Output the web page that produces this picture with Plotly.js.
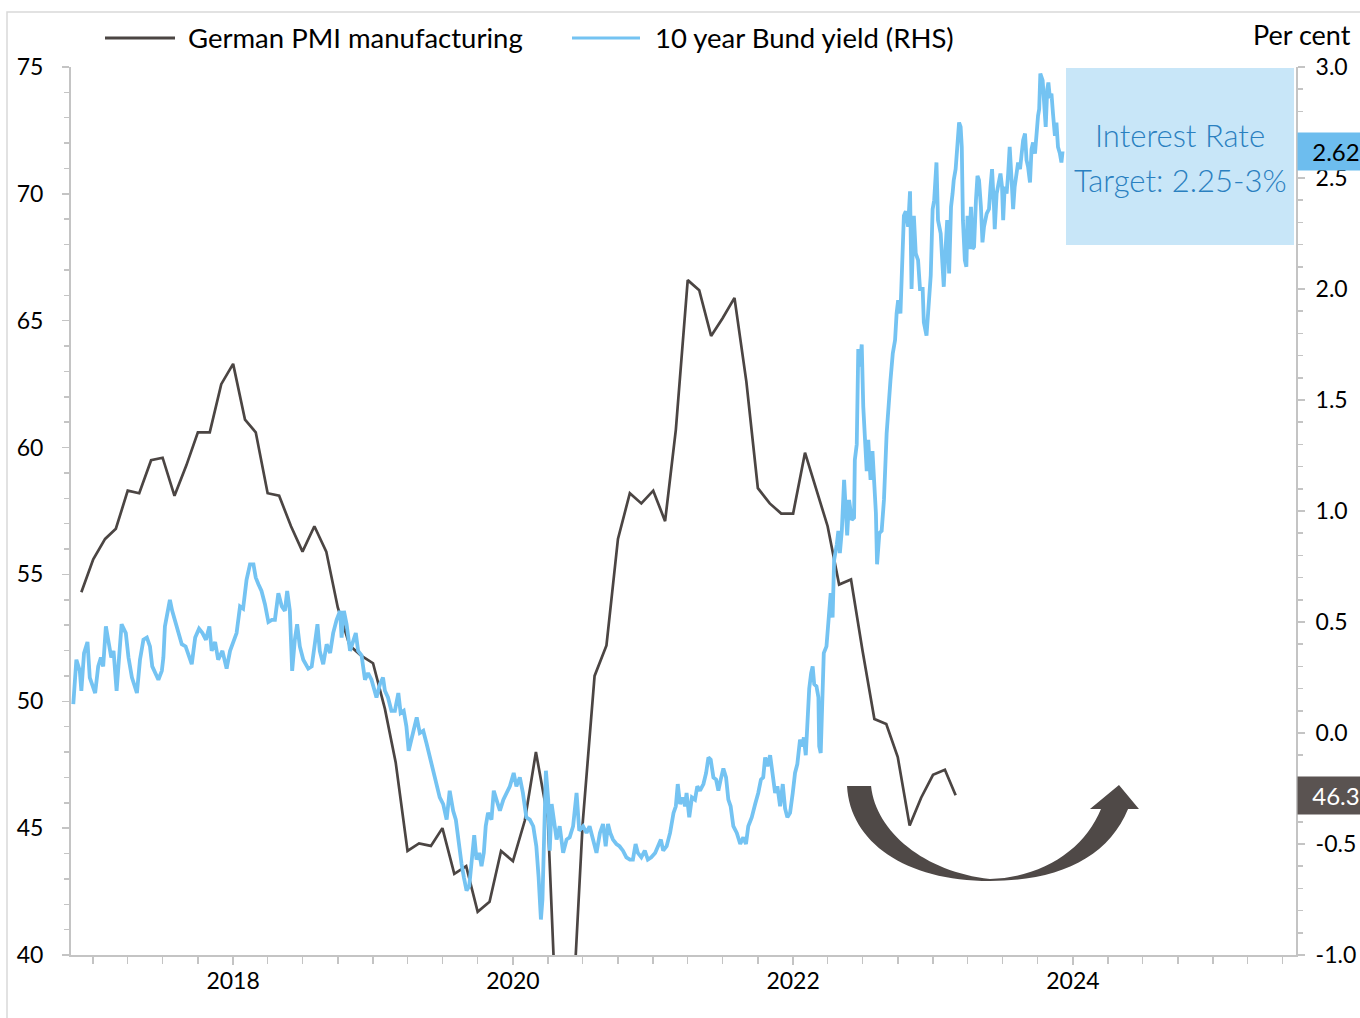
<!DOCTYPE html>
<html>
<head>
<meta charset="utf-8">
<script src="https://cdn.plot.ly/plotly-3.0.1.min.js"></script>
<style>
  html, body { margin: 0; padding: 0; background: #ffffff; }
  #chart { width: 1360px; height: 1018px; }
</style>
</head>
<body>
<div id="chart"></div>
<script>
/* German PMI manufacturing (monthly, data month) */
var pmiMonths = [
    '2016-11', '2016-12',
    '2017-01', '2017-02', '2017-03', '2017-04', '2017-05', '2017-06', '2017-07', '2017-08', '2017-09', '2017-10', '2017-11', '2017-12',
    '2018-01', '2018-02', '2018-03', '2018-04', '2018-05', '2018-06', '2018-07', '2018-08', '2018-09', '2018-10', '2018-11', '2018-12',
    '2019-01', '2019-02', '2019-03', '2019-04', '2019-05', '2019-06', '2019-07', '2019-08', '2019-09', '2019-10', '2019-11', '2019-12',
    '2020-01', '2020-02', '2020-03', '2020-04', '2020-05', '2020-06', '2020-07', '2020-08', '2020-09', '2020-10', '2020-11', '2020-12',
    '2021-01', '2021-02', '2021-03', '2021-04', '2021-05', '2021-06', '2021-07', '2021-08', '2021-09', '2021-10', '2021-11', '2021-12',
    '2022-01', '2022-02', '2022-03', '2022-04', '2022-05', '2022-06', '2022-07', '2022-08', '2022-09', '2022-10', '2022-11', '2022-12',
    '2023-01', '2023-02'
];
var pmiValues = [
    54.3, 55.6,
    56.4, 56.8, 58.3, 58.2, 59.5, 59.6, 58.1, 59.3, 60.6, 60.6, 62.5, 63.3,
    61.1, 60.6, 58.2, 58.1, 56.9, 55.9, 56.9, 55.9, 53.7, 52.2, 51.8, 51.5,
    49.7, 47.6, 44.1, 44.4, 44.3, 45.0, 43.2, 43.5, 41.7, 42.1, 44.1, 43.7,
    45.3, 48.0, 45.4, 34.5, 36.6, 45.2, 51.0, 52.2, 56.4, 58.2, 57.8, 58.3,
    57.1, 60.7, 66.6, 66.2, 64.4, 65.1, 65.9, 62.6, 58.4, 57.8, 57.4, 57.4,
    59.8, 58.4, 56.9, 54.6, 54.8, 52.0, 49.3, 49.1, 47.8, 45.1, 46.2, 47.1,
    47.3, 46.3
];

/* 10 year Bund yield, per cent */
var bundDates = [
    '2016-11-10', '2016-11-18', '2016-11-27', '2016-12-01', '2016-12-08', '2016-12-17', '2016-12-23',
    '2017-01-06', '2017-01-14', '2017-01-21', '2017-01-27', '2017-02-03', '2017-02-09', '2017-02-17', '2017-02-23',
    '2017-03-03', '2017-03-09', '2017-03-16', '2017-03-27', '2017-04-03', '2017-04-12', '2017-04-25', '2017-05-03',
    '2017-05-12', '2017-05-21', '2017-05-29', '2017-06-04', '2017-06-11', '2017-06-20', '2017-06-29', '2017-07-03',
    '2017-07-07', '2017-07-16', '2017-07-20', '2017-07-26', '2017-08-02', '2017-08-11', '2017-08-20', '2017-08-30',
    '2017-09-08', '2017-09-15', '2017-09-24', '2017-10-04', '2017-10-13', '2017-10-22', '2017-10-31', '2017-11-06',
    '2017-11-15', '2017-11-23', '2017-12-04', '2017-12-15', '2017-12-24',
    '2018-01-02', '2018-01-10', '2018-01-19', '2018-01-27', '2018-02-05', '2018-02-14', '2018-02-23', '2018-03-01',
    '2018-03-08', '2018-03-16', '2018-03-25', '2018-04-03', '2018-04-12', '2018-04-20', '2018-04-29', '2018-05-08',
    '2018-05-16', '2018-05-22', '2018-05-29', '2018-06-04', '2018-06-11', '2018-06-17', '2018-06-24', '2018-07-03',
    '2018-07-16', '2018-07-25', '2018-08-02', '2018-08-09', '2018-08-15', '2018-08-24', '2018-09-02', '2018-09-11',
    '2018-09-19', '2018-09-28', '2018-10-07', '2018-10-11', '2018-10-17', '2018-10-24', '2018-11-02', '2018-11-10',
    '2018-11-17', '2018-11-23', '2018-12-02', '2018-12-11', '2018-12-19', '2018-12-28',
    '2019-01-10', '2019-01-19', '2019-01-27', '2019-02-01', '2019-02-09', '2019-02-18', '2019-02-27', '2019-03-08',
    '2019-03-14', '2019-03-22', '2019-03-29', '2019-04-04', '2019-04-12', '2019-04-20', '2019-04-25', '2019-05-03',
    '2019-05-12', '2019-05-21', '2019-05-29', '2019-06-07', '2019-06-16', '2019-06-24', '2019-07-03', '2019-07-12',
    '2019-07-20', '2019-07-29', '2019-08-05', '2019-08-11', '2019-08-20', '2019-08-26', '2019-09-02', '2019-09-09',
    '2019-09-15', '2019-09-22', '2019-09-28', '2019-10-05', '2019-10-11', '2019-10-17', '2019-10-22', '2019-10-28',
    '2019-11-06', '2019-11-12', '2019-11-19', '2019-11-28', '2019-12-07', '2019-12-15', '2019-12-24',
    '2020-01-03', '2020-01-10', '2020-01-19', '2020-01-27', '2020-02-05', '2020-02-14', '2020-02-23', '2020-03-02',
    '2020-03-08', '2020-03-14', '2020-03-18', '2020-03-22', '2020-03-27', '2020-04-02', '2020-04-06', '2020-04-11',
    '2020-04-17', '2020-04-24', '2020-05-02', '2020-05-11', '2020-05-20', '2020-05-28', '2020-06-06', '2020-06-15',
    '2020-06-22', '2020-07-02', '2020-07-11', '2020-07-19', '2020-07-28', '2020-08-06', '2020-08-15', '2020-08-23',
    '2020-08-30', '2020-09-05', '2020-09-11', '2020-09-18', '2020-09-27', '2020-10-05', '2020-10-14', '2020-10-23',
    '2020-11-01', '2020-11-09', '2020-11-16', '2020-11-22', '2020-12-01', '2020-12-10', '2020-12-18', '2020-12-27',
    '2021-01-06', '2021-01-14', '2021-01-21', '2021-01-27', '2021-02-05', '2021-02-14', '2021-02-23', '2021-03-01',
    '2021-03-06', '2021-03-12', '2021-03-19', '2021-03-25', '2021-03-29', '2021-04-05', '2021-04-12', '2021-04-20',
    '2021-04-26', '2021-05-03', '2021-05-12', '2021-05-19', '2021-05-25', '2021-05-31', '2021-06-07', '2021-06-14',
    '2021-06-20', '2021-06-26', '2021-07-03', '2021-07-10', '2021-07-16', '2021-07-22', '2021-07-29', '2021-08-07',
    '2021-08-16', '2021-08-24', '2021-08-31', '2021-09-06', '2021-09-15', '2021-09-24', '2021-10-02', '2021-10-09',
    '2021-10-15', '2021-10-20', '2021-10-26', '2021-11-02', '2021-11-09', '2021-11-15', '2021-11-21', '2021-11-28',
    '2021-12-05', '2021-12-11', '2021-12-17', '2021-12-24', '2021-12-31',
    '2022-01-06', '2022-01-12', '2022-01-19', '2022-01-25', '2022-01-29', '2022-02-03', '2022-02-07', '2022-02-12',
    '2022-02-17', '2022-02-21', '2022-02-25', '2022-03-03', '2022-03-08', '2022-03-10', '2022-03-14', '2022-03-18',
    '2022-03-22', '2022-03-29', '2022-04-03', '2022-04-09', '2022-04-14', '2022-04-18', '2022-04-25', '2022-04-29',
    '2022-05-03', '2022-05-08', '2022-05-14', '2022-05-19', '2022-05-22', '2022-05-27', '2022-06-03', '2022-06-09',
    '2022-06-11', '2022-06-16', '2022-06-20', '2022-06-24', '2022-06-29', '2022-07-03', '2022-07-07', '2022-07-12',
    '2022-07-16', '2022-07-22', '2022-07-27', '2022-08-01', '2022-08-05', '2022-08-08', '2022-08-14', '2022-08-20',
    '2022-08-26', '2022-09-02', '2022-09-08', '2022-09-12', '2022-09-18', '2022-09-24', '2022-09-28', '2022-10-02',
    '2022-10-08', '2022-10-14', '2022-10-17', '2022-10-22', '2022-10-28', '2022-11-02', '2022-11-06', '2022-11-12',
    '2022-11-17', '2022-11-23', '2022-11-28', '2022-12-05', '2022-12-08', '2022-12-15', '2022-12-19', '2022-12-26',
    '2022-12-31',
    '2023-01-04', '2023-01-10', '2023-01-14', '2023-01-21', '2023-01-26', '2023-01-29', '2023-02-03', '2023-02-07',
    '2023-02-12', '2023-02-17', '2023-02-21', '2023-02-24', '2023-03-01', '2023-03-06', '2023-03-10', '2023-03-14',
    '2023-03-17', '2023-03-20', '2023-03-25', '2023-03-29', '2023-04-01', '2023-04-05', '2023-04-10', '2023-04-14',
    '2023-04-18', '2023-04-23', '2023-04-27', '2023-05-01', '2023-05-06', '2023-05-10', '2023-05-14', '2023-05-21',
    '2023-05-27', '2023-05-31', '2023-06-04', '2023-06-09', '2023-06-11', '2023-06-16', '2023-06-22', '2023-06-26',
    '2023-06-30', '2023-07-03', '2023-07-07', '2023-07-12', '2023-07-16', '2023-07-20', '2023-07-25', '2023-07-29',
    '2023-08-02', '2023-08-07', '2023-08-11', '2023-08-16', '2023-08-20', '2023-08-24', '2023-08-29', '2023-09-02',
    '2023-09-06', '2023-09-11', '2023-09-15', '2023-09-19', '2023-09-24', '2023-09-28', '2023-10-02', '2023-10-05',
    '2023-10-08', '2023-10-14', '2023-10-17', '2023-10-20', '2023-10-22', '2023-10-26', '2023-10-29', '2023-11-02',
    '2023-11-06', '2023-11-10', '2023-11-15', '2023-11-19', '2023-11-23', '2023-11-28', '2023-12-02', '2023-12-05'
];
var bundYield = [
    0.13, 0.33, 0.28, 0.19, 0.36, 0.41, 0.25,
    0.18, 0.30, 0.34, 0.30, 0.48, 0.42, 0.34, 0.37,
    0.19, 0.33, 0.49, 0.45, 0.34, 0.25, 0.18, 0.33,
    0.42, 0.43, 0.39, 0.30, 0.27, 0.24, 0.28, 0.34,
    0.48, 0.57, 0.60, 0.55, 0.51, 0.46, 0.40, 0.39,
    0.34, 0.31, 0.43, 0.47, 0.45, 0.42, 0.48, 0.37,
    0.41, 0.33, 0.37, 0.29, 0.37,
    0.42, 0.45, 0.57, 0.56, 0.69, 0.76, 0.76, 0.70,
    0.67, 0.64, 0.58, 0.50, 0.51, 0.51, 0.63, 0.57,
    0.55, 0.64, 0.55, 0.28, 0.42, 0.49, 0.39, 0.33,
    0.29, 0.30, 0.40, 0.49, 0.37, 0.31, 0.40, 0.36,
    0.45, 0.51, 0.55, 0.43, 0.55, 0.49, 0.37, 0.42,
    0.45, 0.37, 0.35, 0.24, 0.27, 0.24,
    0.16, 0.22, 0.25, 0.19, 0.16, 0.10, 0.10, 0.18,
    0.09, 0.10, 0.03, -0.08, -0.02, 0.03, 0.07, 0.00,
    0.01, -0.05, -0.11, -0.17, -0.23, -0.29, -0.32, -0.39,
    -0.26, -0.35, -0.39, -0.48, -0.59, -0.65, -0.71, -0.69,
    -0.60, -0.46, -0.57, -0.54, -0.60, -0.54, -0.42, -0.36,
    -0.39, -0.26, -0.30, -0.35, -0.30, -0.27, -0.24,
    -0.18, -0.24, -0.20, -0.27, -0.38, -0.39, -0.42, -0.51,
    -0.65, -0.84, -0.75, -0.44, -0.17, -0.30, -0.53, -0.32,
    -0.39, -0.48, -0.42, -0.54, -0.48, -0.47, -0.42, -0.27,
    -0.44, -0.42, -0.45, -0.42, -0.48, -0.54, -0.45, -0.41,
    -0.51, -0.41, -0.45, -0.48, -0.50, -0.51, -0.53, -0.56,
    -0.57, -0.57, -0.50, -0.54, -0.56, -0.53, -0.57, -0.56,
    -0.54, -0.51, -0.48, -0.53, -0.51, -0.45, -0.36, -0.33,
    -0.23, -0.32, -0.29, -0.33, -0.27, -0.38, -0.29, -0.30,
    -0.24, -0.26, -0.23, -0.18, -0.11, -0.12, -0.20, -0.21,
    -0.26, -0.21, -0.16, -0.20, -0.30, -0.33, -0.42, -0.45,
    -0.50, -0.47, -0.50, -0.42, -0.38, -0.32, -0.27, -0.21,
    -0.20, -0.11, -0.15, -0.10, -0.18, -0.27, -0.24, -0.33,
    -0.23, -0.34, -0.38, -0.36, -0.27,
    -0.18, -0.14, -0.03, -0.06, -0.02, -0.10, 0.03, 0.20,
    0.27, 0.30, 0.22, 0.21, 0.16, -0.06, -0.09, 0.10,
    0.36, 0.39, 0.53, 0.63, 0.52, 0.78, 0.85, 0.91,
    0.81, 0.91, 1.14, 0.99, 0.89, 1.05, 0.96, 0.97,
    1.23, 1.30, 1.73, 1.65, 1.75, 1.47, 1.32, 1.18,
    1.32, 1.14, 1.27, 1.12, 0.99, 0.76, 0.90, 0.91,
    1.05, 1.35, 1.53, 1.59, 1.71, 1.77, 1.89, 1.95,
    1.89, 2.13, 2.33, 2.35, 2.28, 2.44, 2.00, 2.33,
    2.16, 2.13, 2.00, 2.00, 1.85, 1.79, 1.91, 2.06,
    2.36,
    2.40, 2.57, 2.31, 2.25, 2.13, 2.01, 2.19, 2.31,
    2.07, 2.37, 2.43, 2.49, 2.54, 2.64, 2.75, 2.73,
    2.64, 2.31, 2.13, 2.10, 2.33, 2.18, 2.37, 2.18,
    2.19, 2.40, 2.51, 2.49, 2.37, 2.21, 2.28, 2.34,
    2.36, 2.46, 2.54, 2.37, 2.27, 2.43, 2.49, 2.52,
    2.46, 2.31, 2.46, 2.43, 2.52, 2.64, 2.49, 2.36,
    2.46, 2.51, 2.57, 2.54, 2.63, 2.67, 2.70, 2.58,
    2.55, 2.48, 2.63, 2.66, 2.61, 2.73, 2.78, 2.81,
    2.97, 2.94, 2.84, 2.79, 2.73, 2.90, 2.93, 2.86,
    2.88, 2.79, 2.69, 2.75, 2.64, 2.61, 2.57, 2.62
];

/* right axis ticks (hyphen minus, as in the original) */
var rhsTicks = [-1, -0.5, 0, 0.5, 1, 1.5, 2, 2.5, 3];
var rhsLabels = rhsTicks.map(function (v) { return v.toFixed(1); });

var pmiLast = pmiValues[pmiValues.length - 1];
var bundLast = bundYield[bundYield.length - 1];

/* plot area in pixels, used for placing the decorations */
var plotL = 71, plotR = 1296, plotT = 67, plotB = 955;
function fx(px) { return (px - plotL) / (plotR - plotL); }
function fy(py) { return (plotB - py) / (plotB - plotT); }
function pt(p) { return fx(p[0]).toFixed(4) + ',' + fy(p[1]).toFixed(4); }

var font = 'Lato, "DejaVu Sans", sans-serif';
var pmiColor = '#4b4543';
var bundColor = '#74c3f2';
var axisGrey = '#c4c4c4';

/* curved arrow, pixel outline converted to paper coordinates */
var arrowPath =
    'M ' + pt([847, 786]) + ' L ' + pt([871, 786]) +
    ' C ' + pt([876, 832]) + ' ' + pt([925, 872]) + ' ' + pt([990, 879]) +
    ' C ' + pt([1045, 877]) + ' ' + pt([1085, 848]) + ' ' + pt([1101, 809]) +
    ' L ' + pt([1090, 809]) + ' L ' + pt([1119, 785]) + ' L ' + pt([1139, 809]) +
    ' L ' + pt([1128, 809]) +
    ' C ' + pt([1108, 858]) + ' ' + pt([1058, 881]) + ' ' + pt([990, 881]) +
    ' C ' + pt([905, 881]) + ' ' + pt([850, 842]) + ' ' + pt([847, 786]) + ' Z';

var data = [
    {
        type: 'scatter',
        mode: 'lines',
        name: 'German PMI manufacturing',
        x: pmiMonths,
        y: pmiValues,
        xperiod: 'M1',
        xperiodalignment: 'end',
        line: { color: pmiColor, width: 2.7 },
        yaxis: 'y'
    },
    {
        type: 'scatter',
        mode: 'lines',
        name: '10 year Bund yield (RHS)',
        x: bundDates,
        y: bundYield,
        line: { color: bundColor, width: 3.8 },
        yaxis: 'y2'
    }
];

var tickFont = { family: font, size: 23, color: '#000000' };

var layout =
{
    width: 1360,
    height: 1018,
    margin: { l: plotL, r: 1360 - plotR, t: plotT, b: 1018 - plotB, pad: 0 },
    paper_bgcolor: '#ffffff',
    plot_bgcolor: '#ffffff',
    showlegend: false,
    hovermode: false,
    font: { family: font, color: '#000000' },
    xaxis: {
        type: 'date',
        range: ['2016-11-04', '2025-08-05'],
        tickmode: 'linear',
        tick0: '2018-01-01',
        dtick: 'M24',
        tickformat: '%Y',
        ticks: 'outside',
        ticklen: 8,
        tickwidth: 1.5,
        tickcolor: axisGrey,
        ticklabelstandoff: -4,
        showline: true,
        linecolor: axisGrey,
        linewidth: 2,
        showgrid: false,
        zeroline: false,
        tickfont: tickFont,
        minor: { tick0: '2018-01-01', dtick: 'M3', ticks: 'outside', ticklen: 7, tickwidth: 1.5, tickcolor: axisGrey, showgrid: false }
    },
    yaxis: {
        range: [40, 75],
        tick0: 40,
        dtick: 5,
        ticks: 'outside',
        ticklen: 7,
        tickwidth: 1.5,
        tickcolor: axisGrey,
        ticklabelstandoff: 14,
        showline: true,
        linecolor: axisGrey,
        linewidth: 2,
        showgrid: false,
        zeroline: false,
        tickfont: tickFont,
        minor: { dtick: 1, ticks: 'outside', ticklen: 5, tickwidth: 1.5, tickcolor: axisGrey, showgrid: false }
    },
    yaxis2: {
        overlaying: 'y',
        side: 'right',
        range: [-1, 3],
        tickmode: 'array',
        tickvals: rhsTicks,
        ticktext: rhsLabels,
        ticks: 'outside',
        ticklen: 7,
        tickwidth: 1.5,
        tickcolor: axisGrey,
        ticklabelstandoff: 6,
        showline: true,
        linecolor: axisGrey,
        linewidth: 2,
        showgrid: false,
        zeroline: false,
        tickfont: tickFont,
        minor: { tickmode: 'linear', tick0: -1, dtick: 0.1, ticks: 'outside', ticklen: 5, tickwidth: 1.5, tickcolor: axisGrey, showgrid: false }
    },
    shapes: [
        /* chart border */
        { type: 'rect', xref: 'paper', yref: 'paper', x0: fx(7), x1: fx(1400), y0: fy(1060), y1: fy(12),
          line: { color: '#d9d9d9', width: 1.5 }, fillcolor: 'rgba(0,0,0,0)', layer: 'below' },
        /* target box */
        { type: 'rect', xref: 'paper', yref: 'paper', x0: fx(1066), x1: fx(1294), y0: fy(245), y1: fy(68),
          line: { width: 0 }, fillcolor: '#c8e6f8', layer: 'below' },
        /* legend samples */
        { type: 'line', xref: 'paper', yref: 'paper', x0: fx(105), x1: fx(175), y0: fy(38), y1: fy(38),
          line: { color: pmiColor, width: 3 } },
        { type: 'line', xref: 'paper', yref: 'paper', x0: fx(572), x1: fx(640), y0: fy(38), y1: fy(38),
          line: { color: bundColor, width: 3 } },
        /* curved arrow */
        { type: 'path', xref: 'paper', yref: 'paper', path: arrowPath,
          fillcolor: '#4f4947', line: { width: 0 } }
    ],
    annotations: [
        { xref: 'paper', yref: 'paper', x: fx(186), y: fy(37), xanchor: 'left', yanchor: 'middle', showarrow: false,
          text: 'German PMI manufacturing', font: { family: font, size: 27.5, color: '#000000' } },
        { xref: 'paper', yref: 'paper', x: fx(653), y: fy(37), xanchor: 'left', yanchor: 'middle', showarrow: false,
          text: '10 year Bund yield (RHS)', font: { family: font, size: 27.5, color: '#000000' } },
        { xref: 'paper', yref: 'paper', x: fx(1353), y: fy(34), xanchor: 'right', yanchor: 'middle', showarrow: false,
          text: 'Per cent', font: { family: font, size: 27, color: '#000000' } },
        { xref: 'paper', yref: 'paper', x: fx(1180), y: fy(135), xanchor: 'center', yanchor: 'middle', showarrow: false,
          text: 'Interest Rate', font: { family: font, size: 31, color: '#2a80c0', weight: 300 } },
        { xref: 'paper', yref: 'paper', x: fx(1180), y: fy(180), xanchor: 'center', yanchor: 'middle', showarrow: false,
          text: 'Target: 2.25-3%', font: { family: font, size: 31, color: '#2a80c0', weight: 300 } },
        /* last value labels */
        { xref: 'paper', yref: 'y2', x: 1, y: bundLast, xanchor: 'left', yanchor: 'middle', xshift: 1, showarrow: false,
          text: bundLast.toFixed(2), width: 66, height: 27, borderpad: 5, bgcolor: '#6dbdee',
          font: { family: font, size: 24, color: '#000000' } },
        { xref: 'paper', yref: 'y', x: 1, y: pmiLast, xanchor: 'left', yanchor: 'middle', xshift: 1, showarrow: false,
          text: pmiLast.toFixed(1), width: 66, height: 27, borderpad: 5, bgcolor: '#5a5351',
          font: { family: font, size: 24, color: '#ffffff' } }
    ]
};

var config =
{
    staticPlot: true,
    displayModeBar: false,
    responsive: false
};

Plotly.newPlot('chart', data, layout, config);
</script>
</body>
</html>
